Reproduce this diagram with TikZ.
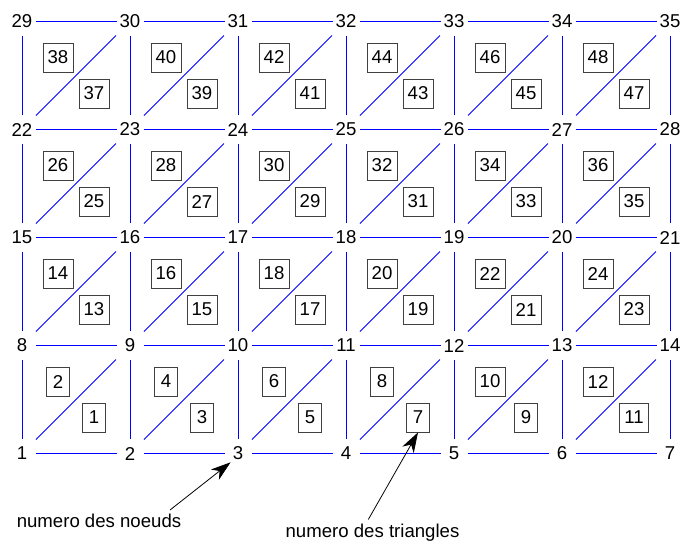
\documentclass[tikz,border=0pt]{standalone}
\usepackage{fontspec}
\setmainfont{Liberation Sans}
\usetikzlibrary{arrows.meta}
\tikzset{
  lab/.style={font=\fontsize{18.6}{22}\selectfont, inner sep=2pt},
  tribox/.style={font=\fontsize{18.6}{22}\selectfont, draw=black!75, line width=0.8pt,
    minimum height=29pt, minimum width=23.6pt, inner xsep=4.6pt, inner ysep=0pt},
  gridline/.style={draw=blue, line width=0.9pt},
  hline/.style={gridline, shorten <=13.5pt, shorten >=13.5pt},
  vline/.style={gridline, shorten <=14.5pt, shorten >=14.5pt},
  dline/.style={gridline, shorten <=19.8pt, shorten >=19.8pt},
  pointer/.style={draw=black, line width=0.8pt, -{Stealth[length=20pt,width=13pt,inset=6pt]}},
  note/.style={font=\fontsize{18.6}{22}\selectfont, inner sep=0pt, anchor=base}
}
\begin{document}
\begin{tikzpicture}[x=1pt,y=-1pt]
\useasboundingbox (0,0) rectangle (680,542);
% node labels
\foreach \r in {0,...,4}{
  \foreach \c in {0,...,6}{
    \pgfmathtruncatemacro{\k}{7*\r+\c+1}
    \node[lab] (n\k) at ({22+108*\c},{453.5-108*\r}) {\k};
  }
}
% grid lines
\foreach \r in {0,...,4}{
  \foreach \c in {0,...,6}{
    \pgfmathtruncatemacro{\k}{7*\r+\c+1}
    \pgfmathtruncatemacro{\kr}{\k+1}
    \pgfmathtruncatemacro{\ku}{\k+7}
    \pgfmathtruncatemacro{\kd}{\k+8}
    \ifnum\c<6 \draw[hline] (n\k.center) -- (n\kr.center); \fi
    \ifnum\r<4 \draw[vline] (n\k.center) -- (n\ku.center); \fi
    \ifnum\r<4 \ifnum\c<6 \draw[dline] (n\k.center) -- (n\kd.center); \fi\fi
  }
}
% triangle boxes
\foreach \r in {0,...,3}{
  \foreach \c in {0,...,5}{
    \pgfmathtruncatemacro{\ta}{12*\r+2*\c+1}
    \pgfmathtruncatemacro{\tb}{12*\r+2*\c+2}
    \node[tribox] (t\ta) at ({22+108*\c+72},{453.5-108*(\r+1)+72}) {\ta};
    \node[tribox] (t\tb) at ({22+108*\c+36},{453.5-108*(\r+1)+36}) {\tb};
  }
}
% annotations
\node[note] (noeuds) at (99,527) {numero des noeuds};
\node[note] (triangles) at (372.5,537.5) {numero des triangles};
\coordinate (a1) at (170,510);
\coordinate (a2) at (368.3,519.5);
\draw[pointer] (a1) -- (n3.south west);
\draw[pointer] (a2) -- (t7.south);
\end{tikzpicture}
\end{document}
